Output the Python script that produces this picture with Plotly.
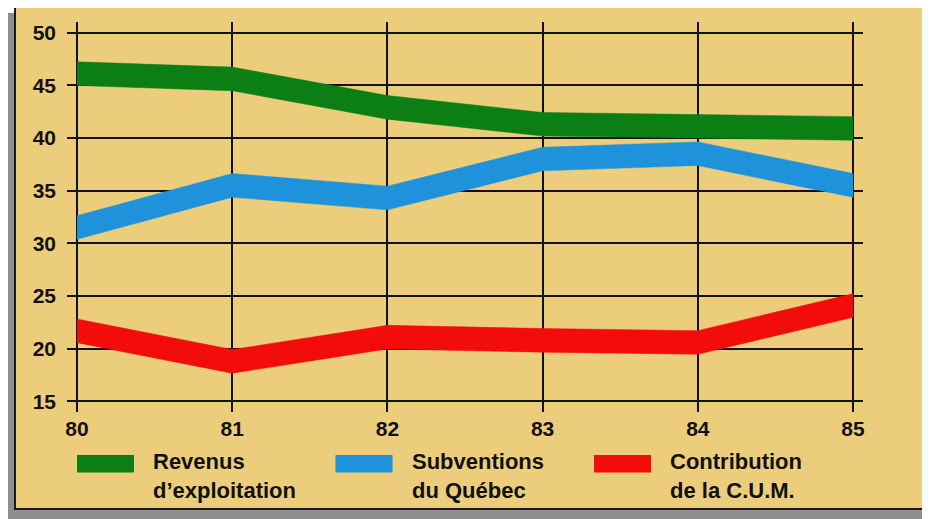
import numpy as np
import plotly.graph_objects as go

# ---- data ----
years = [80, 81, 82, 83, 84, 85]
revenus = [46.1, 45.6, 42.9, 41.3, 41.1, 40.9]
subventions = [31.5, 35.5, 34.3, 38.0, 38.5, 35.5]
contribution = [21.7, 18.8, 21.1, 20.8, 20.6, 24.1]
series_names = ["Revenus<br>d’exploitation", "Subventions<br>du Québec", "Contribution<br>de la C.U.M."]
series_colors = ["#0B7F14", "#1E93DB", "#F20C0A"]
y_ticks = [15, 20, 25, 30, 35, 40, 45, 50]

# page is offset by the browser's default 8px body margin
OFF = 8
W, H = 930 - OFF, 519 - OFF
# plot area in page pixels: x 67..863, y 22..412
ML, MT = 67 - OFF, 22 - OFF
PW, PH = 863 - 67, 412 - 22
MR = W - ML - PW
MB = H - MT - PH


def px(x):
    return (x - OFF - ML) / PW


def py(y):
    return (MT + PH - (y - OFF)) / PH


BAND = 1.12  # half thickness of each band, in data units
TAN = "#ECCD7C"
FONT = "Liberation Sans"

fig = go.Figure()
for name, vals, col in zip(series_names, [revenus, subventions, contribution], series_colors):
    v = np.array(vals, dtype=float)
    xs = list(years) + list(years[::-1])
    ys = list(v + BAND) + list((v - BAND)[::-1])
    fig.add_trace(go.Scatter(
        x=xs, y=ys, mode="lines", fill="toself", fillcolor=col,
        line=dict(color=col, width=0.5), name=name.replace("<br>", " "),
        showlegend=False, hoverinfo="name"))

shapes = [
    # shadow strips
    dict(type="rect", xref="paper", yref="paper", x0=px(2), x1=px(15), y0=py(522), y1=py(13),
         fillcolor="#8E8E8E", line=dict(width=0), layer="below"),
    dict(type="rect", xref="paper", yref="paper", x0=px(2), x1=px(935), y0=py(522), y1=py(509),
         fillcolor="#8E8E8E", line=dict(width=0), layer="below"),
    # panel
    dict(type="rect", xref="paper", yref="paper", x0=px(15), x1=px(940), y0=py(509), y1=py(6),
         fillcolor=TAN, line=dict(color="#1a1a1a", width=2), layer="below"),
]
annotations = []
step = 258.5
for i, (name, col) in enumerate(zip(series_names, series_colors)):
    x0 = 77 + i * step
    shapes.append(dict(type="rect", xref="paper", yref="paper", x0=px(x0), x1=px(x0 + 57),
                       y0=py(472.5), y1=py(455), fillcolor=col, line=dict(width=0)))
    annotations.append(dict(
        xref="paper", yref="paper", x=px(x0 + 74), y=py(476),
        xanchor="left", yanchor="middle", align="left", showarrow=False, text=name,
        font=dict(family=FONT, size=22, color="#111111", weight="bold")))

fig.update_layout(
    width=W, height=H,
    margin=dict(l=ML, r=MR, t=MT, b=MB, pad=0),
    paper_bgcolor="white", plot_bgcolor="rgba(0,0,0,0)",
    shapes=shapes, annotations=annotations,
    showlegend=False,
    font=dict(family=FONT, size=21, color="#111111", weight="bold"),
)
fig.update_xaxes(
    range=[80 - 10 / 155.2, 85 + 10 / 155.2], tickvals=years, ticktext=[str(y) for y in years],
    showgrid=True, gridcolor="#111111", gridwidth=2, zeroline=False, showline=False,
    ticks="", ticklabelstandoff=2, tickfont=dict(family=FONT, size=21, weight="bold"))
fig.update_yaxes(
    range=[14, 51], tickvals=y_ticks, ticktext=[str(v) for v in y_ticks],
    showgrid=True, gridcolor="#111111", gridwidth=2, zeroline=False, showline=False,
    ticks="", ticklabelstandoff=10, tickfont=dict(family=FONT, size=21, weight="bold"))

fig.write_html("out.html")
